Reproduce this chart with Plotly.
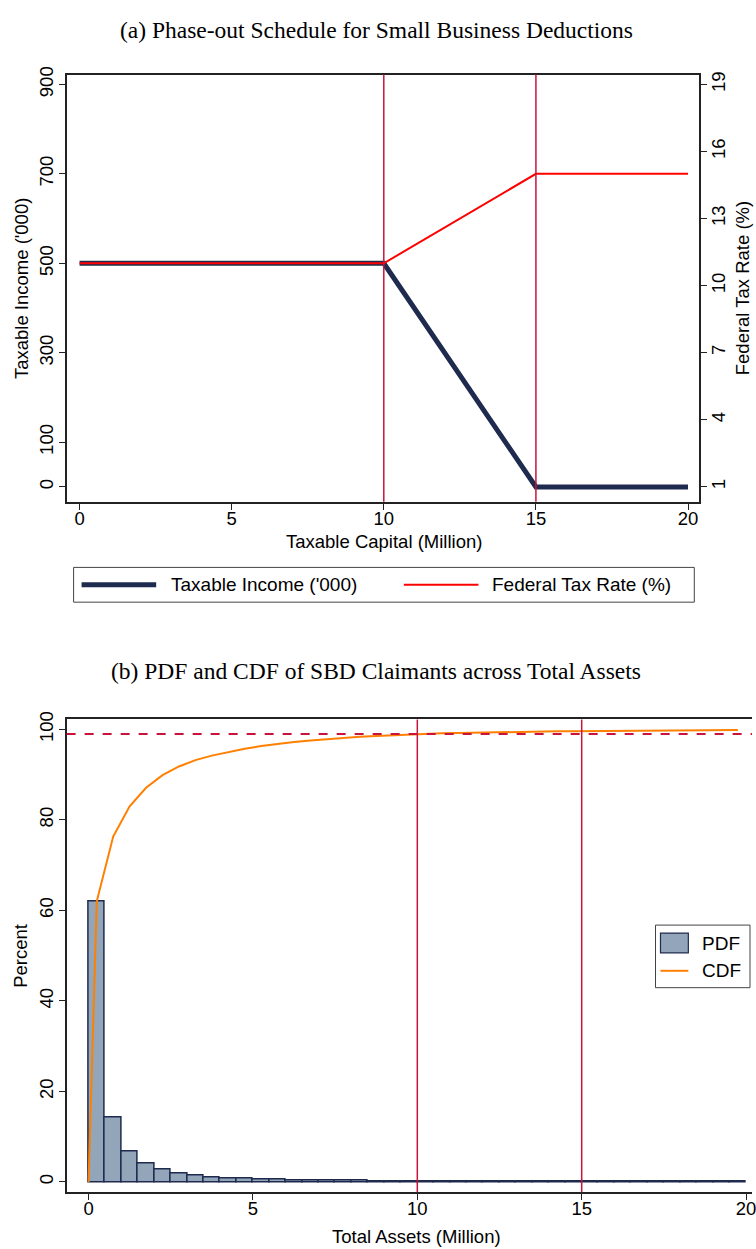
import plotly.graph_objects as go

# ---------------- data ----------------
# Panel (a)
capital_pts = [0, 10, 15, 20]
taxable_income = [500, 500, 0, 0]
federal_rate = [11, 11, 15, 15]
thresholds = [10, 15]

# Panel (b)
bin_centers = [0.25, 0.75, 1.25, 1.75, 2.25, 2.75, 3.25, 3.75, 4.25, 4.75,
               5.25, 5.75, 6.25, 6.75, 7.25, 7.75, 8.25, 8.75, 9.25, 9.75,
               10.25, 10.75, 11.25, 11.75, 12.25, 12.75, 13.25, 13.75, 14.25, 14.75,
               15.25, 15.75, 16.25, 16.75, 17.25, 17.75, 18.25, 18.75, 19.25, 19.75]
pdf_pct = [62.0, 14.3, 6.7, 4.1, 2.8, 1.9, 1.4, 1.0, 0.8, 0.7,
           0.6, 0.5, 0.4, 0.35, 0.3, 0.27, 0.24, 0.2, 0.18, 0.16,
           0.12, 0.1, 0.09, 0.08, 0.07, 0.06, 0.05, 0.05, 0.04, 0.04,
           0.03, 0.03, 0.03, 0.03, 0.02, 0.02, 0.02, 0.02, 0.02, 0.02]
cdf_x = [0] + bin_centers
cdf_pct = [0, 62.0, 76.3, 83.0, 87.1, 89.9, 91.8, 93.2, 94.2, 95.0, 95.7,
           96.3, 96.8, 97.2, 97.55, 97.85, 98.12, 98.36, 98.56, 98.74, 98.9,
           99.02, 99.12, 99.21, 99.29, 99.36, 99.42, 99.47, 99.52, 99.56, 99.6,
           99.63, 99.66, 99.69, 99.72, 99.74, 99.76, 99.78, 99.8, 99.82, 99.84]
cdf_cutoff = 99

# ---------------- styling ----------------
W, H = 756, 1249
NAVY = "#1F2B4E"
RED = "#FF0000"
CRIMSON = "#C8143C"
ORANGE = "#FF8000"
BARFILL = "#93A5B8"
AX = "#222222"
SANS = "Liberation Sans, Arial, sans-serif"
SERIF = "Liberation Serif, Times New Roman, serif"
FS = 18.5
LFS = 19


def px(x):
    return x / W


def py(y):
    return 1 - y / H


fig = go.Figure()

# Panel (a) traces
fig.add_trace(go.Scatter(x=capital_pts, y=taxable_income, mode="lines",
                         line=dict(color=NAVY, width=5), name="Taxable Income ('000)",
                         xaxis="x", yaxis="y", showlegend=False))
fig.add_trace(go.Scatter(x=capital_pts, y=federal_rate, mode="lines",
                         line=dict(color=RED, width=2), name="Federal Tax Rate (%)",
                         xaxis="x", yaxis="y2", showlegend=False))

# Panel (b) traces
fig.add_trace(go.Bar(x=bin_centers, y=pdf_pct, width=0.5,
                     marker=dict(color=BARFILL, line=dict(color=NAVY, width=1.5)),
                     name="PDF", xaxis="x2", yaxis="y3", showlegend=False))
fig.add_trace(go.Scatter(x=cdf_x, y=cdf_pct, mode="lines",
                         line=dict(color=ORANGE, width=2), name="CDF",
                         xaxis="x2", yaxis="y3", showlegend=False))

shapes = []
for t in thresholds:
    shapes.append(dict(type="line", xref="x", yref="y domain", x0=t, x1=t, y0=0, y1=1,
                       line=dict(color=CRIMSON, width=1.5), layer="above"))
    shapes.append(dict(type="line", xref="x2", yref="y3 domain", x0=t, x1=t, y0=0, y1=1,
                       line=dict(color=CRIMSON, width=1.5), layer="above"))
shapes.append(dict(type="line", xref="x2 domain", yref="y3", x0=0, x1=1,
                   y0=cdf_cutoff, y1=cdf_cutoff,
                   line=dict(color=CRIMSON, width=2, dash="dash"), layer="above"))

# Legend (a)
shapes.append(dict(type="rect", xref="paper", yref="paper", x0=px(74), x1=px(698),
                   y0=py(598), y1=py(563), line=dict(color="#444444", width=1)))
shapes.append(dict(type="line", xref="paper", yref="paper", x0=px(82), x1=px(157),
                   y0=py(580.5), y1=py(580.5), line=dict(color=NAVY, width=5)))
shapes.append(dict(type="line", xref="paper", yref="paper", x0=px(406), x1=px(481),
                   y0=py(580.5), y1=py(580.5), line=dict(color=RED, width=2)))
# Legend (b)
shapes.append(dict(type="rect", xref="paper", yref="paper", x0=px(659), x1=px(754),
                   y0=py(986), y1=py(923), fillcolor="white",
                   line=dict(color="#444444", width=1)))
shapes.append(dict(type="rect", xref="paper", yref="paper", x0=px(664), x1=px(692),
                   y0=py(951), y1=py(931), fillcolor=BARFILL,
                   line=dict(color=NAVY, width=1.2)))
shapes.append(dict(type="line", xref="paper", yref="paper", x0=px(664), x1=px(692),
                   y0=py(969), y1=py(969), line=dict(color=ORANGE, width=2)))


def ann(text, x, y, size=FS, family=SANS, xanchor="center", angle=0):
    return dict(text=text, x=px(x), y=py(y), xref="paper", yref="paper", showarrow=False,
                xanchor=xanchor, yanchor="middle", textangle=angle,
                font=dict(family=family, size=size, color="black"))


annotations = [
    ann("(a) Phase-out Schedule for Small Business Deductions", 378, 22, size=23.5, family=SERIF),
    ann("(b) PDF and CDF of SBD Claimants across Total Assets", 378, 667, size=23.5, family=SERIF),
    ann("Taxable Income ('000)", 170, 580.5, size=LFS, xanchor="left"),
    ann("Federal Tax Rate (%)", 493, 580.5, size=LFS, xanchor="left"),
    ann("PDF", 704, 942, size=LFS, xanchor="left"),
    ann("CDF", 704, 969, size=LFS, xanchor="left"),
    # axis titles
    ann("Taxable Capital (Million)", 386, 537),
    ann("Taxable Income ('000)", 21, 282, angle=-90),
    ann("Federal Tax Rate (%)", 746, 282, angle=-90),
    ann("Total Assets (Million)", 419, 1236),
    ann("Percent", 21, 954, angle=-90),
]

axis_common = dict(showgrid=False, zeroline=False, showline=True, linecolor=AX, linewidth=1.5,
                   ticks="outside", ticklen=6, tickwidth=1.2, tickcolor=AX,
                   tickfont=dict(family=SANS, size=FS, color="black"))

fig.update_layout(
    width=W, height=H, autosize=False,
    margin=dict(l=0, r=0, t=0, b=0),
    paper_bgcolor="white", plot_bgcolor="white",
    showlegend=False,
    bargap=0,
    xaxis=dict(domain=[px(67), px(703)], range=[-0.425, 20.37], anchor="y",
               tickvals=[0, 5, 10, 15, 20], mirror=True, ticklabelstandoff=-7, **axis_common),
    yaxis=dict(domain=[py(497), py(67)], range=[-33.3, 922.2], anchor="x",
               tickvals=[0, 100, 300, 500, 700, 900], tickangle=-90,
               ticklabelstandoff=-1, **axis_common),
    yaxis2=dict(overlaying="y", side="right", range=[0.333, 19.44], anchor="x",
                tickvals=[1, 4, 7, 10, 13, 16, 19], tickangle=-90,
                ticklabelstandoff=-4, **axis_common),
    xaxis2=dict(domain=[px(67), 1.0], range=[-0.666, 20.18], anchor="y3",
                tickvals=[0, 5, 10, 15, 20], mirror=True, ticklabelstandoff=-7,
                ticklabeloverflow="allow", **axis_common),
    yaxis3=dict(domain=[py(1192), py(716)], range=[-2.305, 102.2], anchor="x2",
                tickvals=[0, 20, 40, 60, 80, 100], tickangle=-90,
                ticklabelstandoff=-1, **axis_common),
    shapes=shapes,
    annotations=annotations,
)

fig.write_html("out.html")
